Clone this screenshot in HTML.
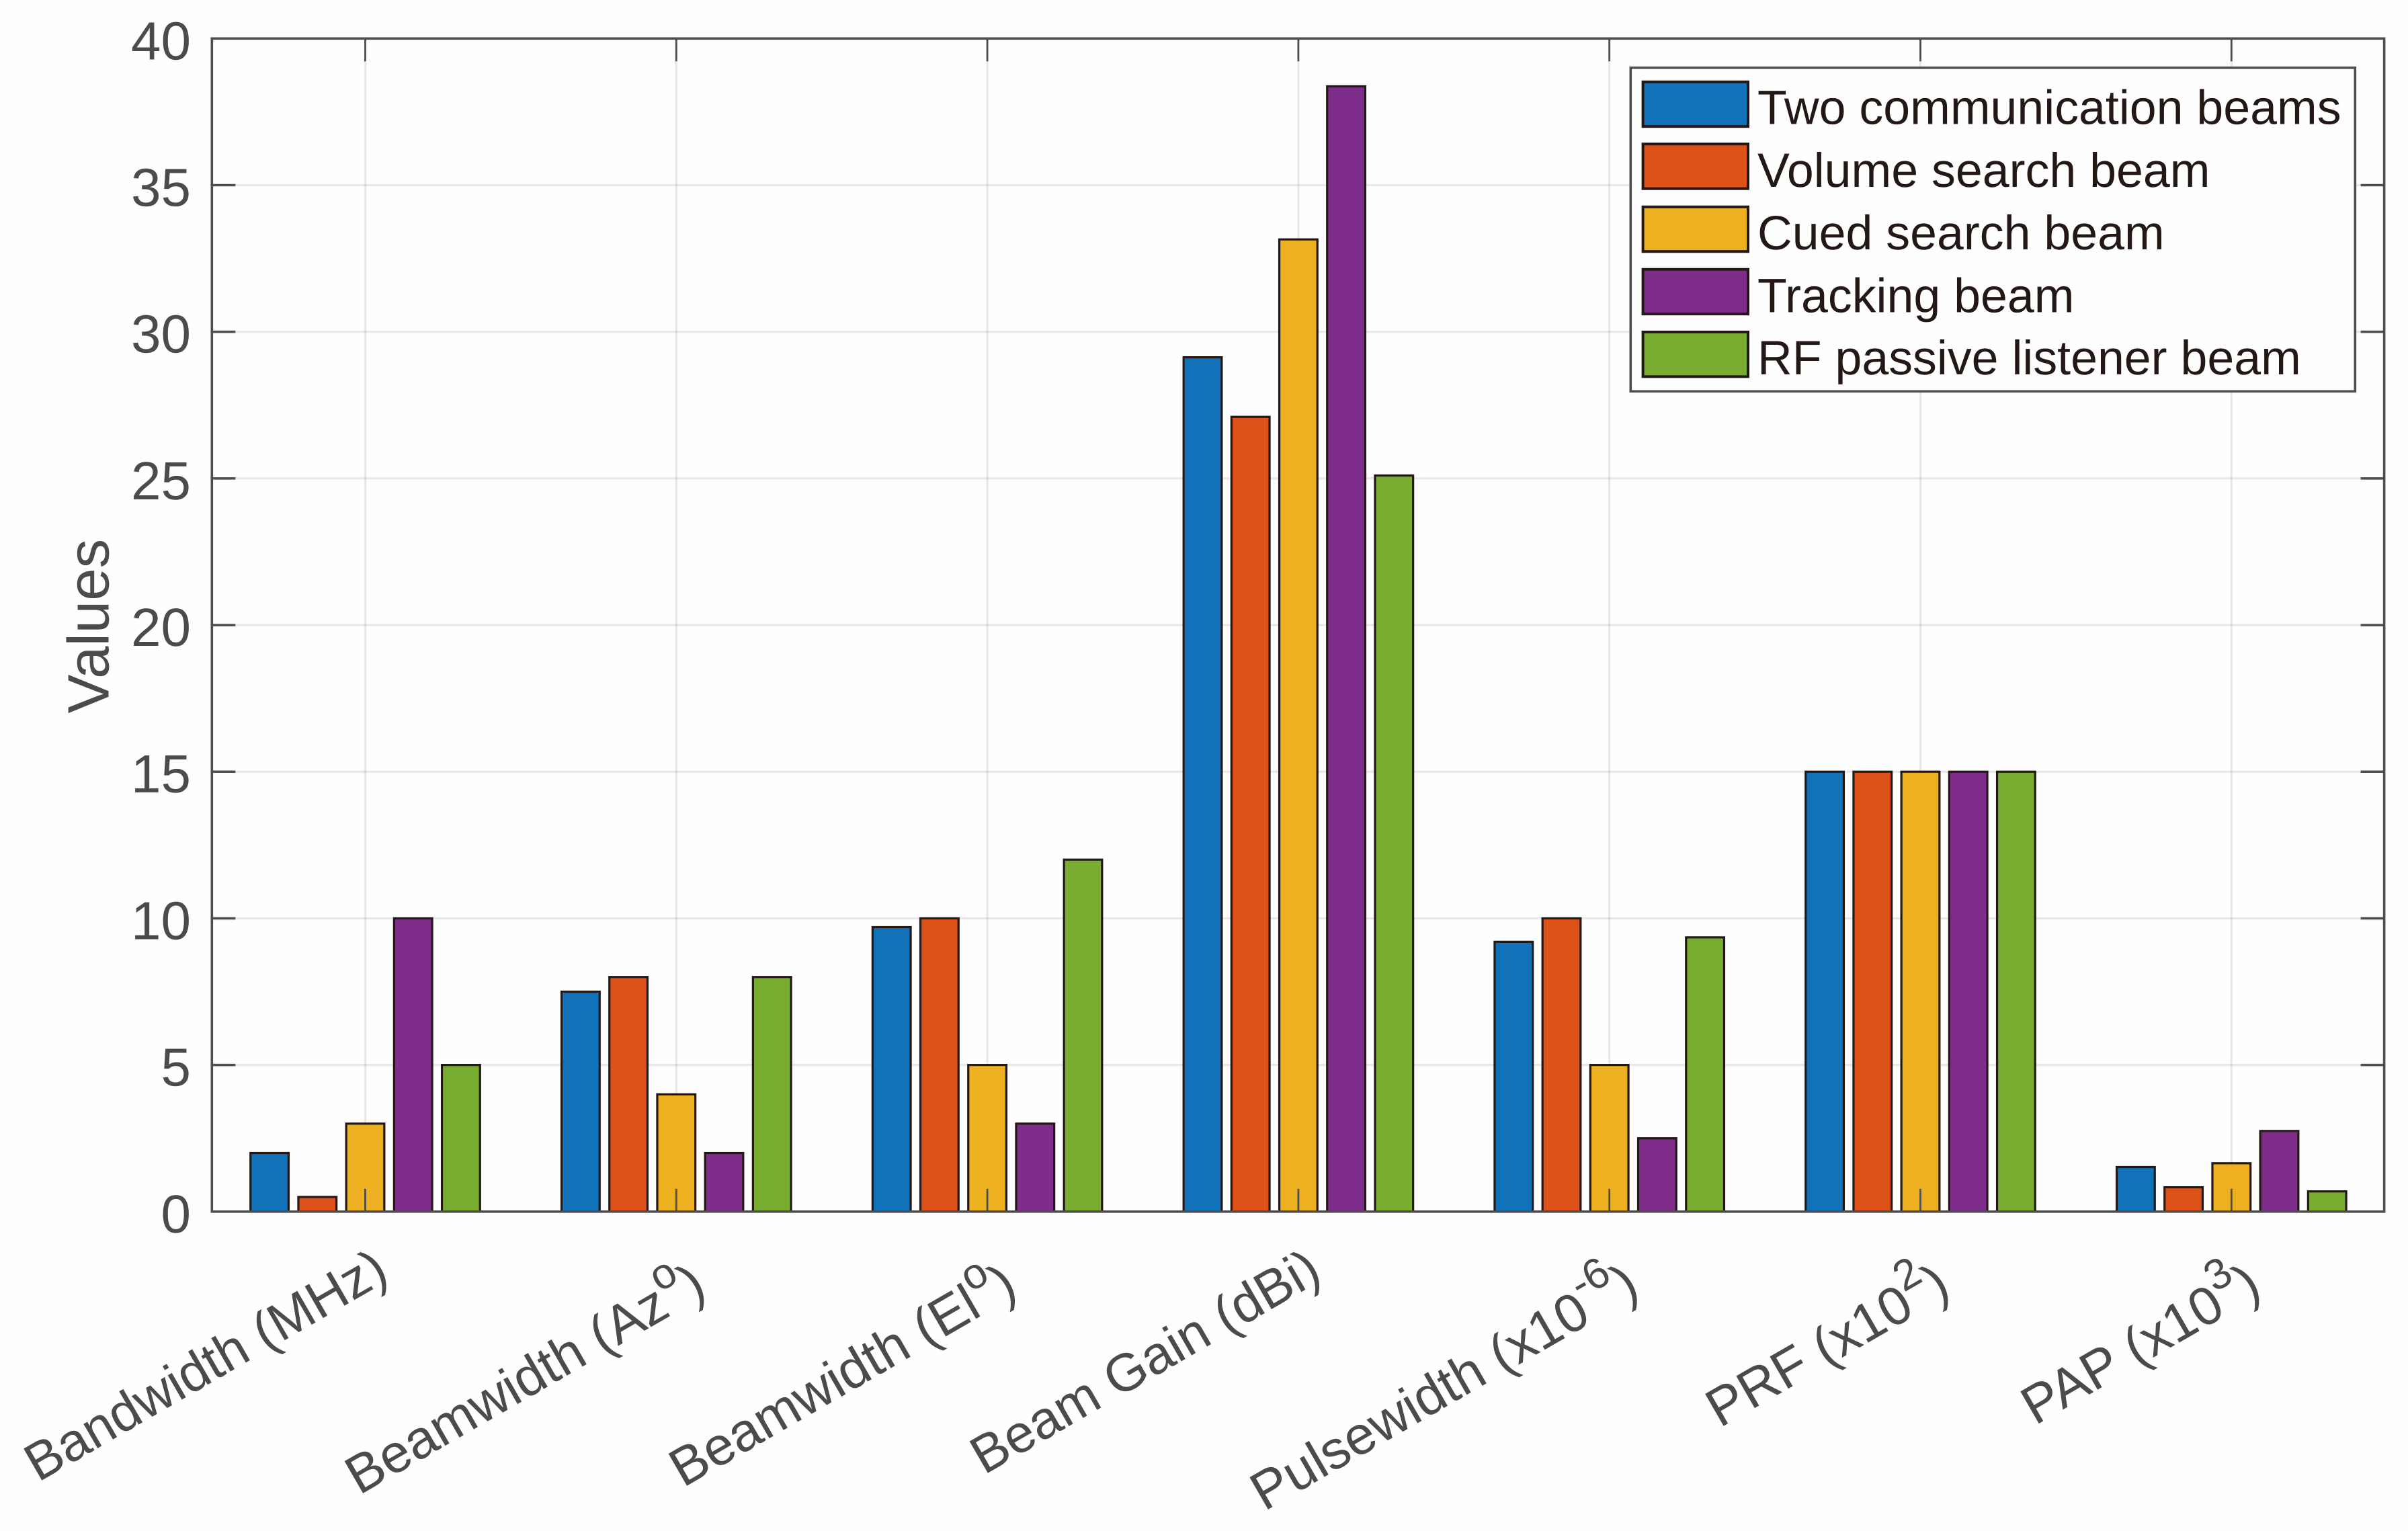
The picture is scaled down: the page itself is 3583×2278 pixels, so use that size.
<!DOCTYPE html>
<html lang="en">
<head>
<meta charset="utf-8">
<title>Beam parameters bar chart</title>
<style>
  html, body { margin: 0; padding: 0; background: #fefefe; }
  body { width: 3583px; height: 2278px; overflow: hidden; }
  svg { display: block; font-family: "Liberation Sans", Arial, sans-serif; text-rendering: geometricPrecision; }
</style>
</head>
<body>
<svg id="chart" xmlns="http://www.w3.org/2000/svg" width="3583" height="2278" viewBox="0 0 3583 2278">
  <rect x="0" y="0" width="3583" height="2278" fill="#fefefe"/>
  <g id="grid"></g>
  <g id="bars"></g>
  <rect x="315.3" y="57.3" width="3232.3" height="1745.5" fill="none" stroke="#4d4d4d" stroke-width="3.6"/>
  <g id="ticks"></g>
  <g id="y-labels"></g>
  <g id="x-labels"></g>
  <text transform="translate(161.5 931.7) rotate(-90)" text-anchor="middle" font-size="87" fill="#4d4b49">Values</text>

  <g>
    <rect x="2426.3" y="100.8" width="1078" height="481.5" fill="#fefefe" stroke="#4d4d4d" stroke-width="3.6"/>
    <g>
      <rect x="2444.6" y="121.8" width="156.4" height="66.4" fill="#1171b9" stroke="#231815" stroke-width="4"/>
      <text x="2615" y="184.6" font-size="71.7" fill="#231815">Two communication beams</text>
    </g>
    <g>
      <rect x="2444.6" y="214.3" width="156.4" height="66.4" fill="#dc5218" stroke="#231815" stroke-width="4"/>
      <text x="2615" y="277.8" font-size="71.7" fill="#231815">Volume search beam</text>
    </g>
    <g>
      <rect x="2444.6" y="307.8" width="156.4" height="66.4" fill="#edb021" stroke="#231815" stroke-width="4"/>
      <text x="2615" y="371" font-size="71.7" fill="#231815">Cued search beam</text>
    </g>
    <g>
      <rect x="2444.6" y="400.8" width="156.4" height="66.4" fill="#7e2e8a" stroke="#231815" stroke-width="4"/>
      <text x="2615" y="464.4" font-size="71.7" fill="#231815">Tracking beam</text>
    </g>
    <g>
      <rect x="2444.6" y="494" width="156.4" height="66.4" fill="#77ac30" stroke="#231815" stroke-width="4"/>
      <text x="2615" y="557" font-size="71.7" fill="#231815">RF passive listener beam</text>
    </g>
  </g>
</svg>
<script>
var categories = ['Bandwidth (MHz)', 'Beamwidth (Az^o^)', 'Beamwidth (El^o^)', 'Beam Gain (dBi)', 'Pulsewidth (x10^-6^)', 'PRF (x10^2^)', 'PAP (x10^3^)'];
var yTicks = [0, 5, 10, 15, 20, 25, 30, 35, 40];
var twoCommunicationBeams = [2, 7.5, 9.7, 29.13, 9.2, 15, 1.52];
var volumeSearchBeam = [0.5, 8, 10, 27.1, 10, 15, 0.83];
var cuedSearchBeam = [3, 4, 5, 33.15, 5, 15, 1.65];
var trackingBeam = [10, 2, 3, 38.37, 2.5, 15, 2.75];
var rfPassiveListenerBeam = [5, 8, 12, 25.1, 9.35, 15, 0.69];
var seriesNames = ['two-communication-beams', 'volume-search-beam', 'cued-search-beam', 'tracking-beam', 'rf-passive-listener-beam'];
var seriesValues = [twoCommunicationBeams, volumeSearchBeam, cuedSearchBeam, trackingBeam, rfPassiveListenerBeam];
var seriesColors = ['#1171b9', '#dc5218', '#edb021', '#7e2e8a', '#77ac30'];

var NS = 'http://www.w3.org/2000/svg';
var plotLeft = 315.3, plotRight = 3547.6, plotTop = 57.3, plotBottom = 1802.8;
var yMax = 40;
var groupStart = 543.5, groupStep = 462.8, barStep = 71.2, barWidth = 56.7;

function xScale(i) { return groupStart + groupStep * i; }
function yScale(v) { return plotBottom - (v / yMax) * (plotBottom - plotTop); }

function make(tag, attrs, parent) {
  var el = document.createElementNS(NS, tag);
  for (var k in attrs) { el.setAttribute(k, attrs[k]); }
  parent.appendChild(el);
  return el;
}

var gridG = document.getElementById('grid');
var barsG = document.getElementById('bars');
var ticksG = document.getElementById('ticks');
var yLabelsG = document.getElementById('y-labels');
var xLabelsG = document.getElementById('x-labels');
var gridStyle = { stroke: '#262626', 'stroke-opacity': '0.1', 'stroke-width': '3.2' };

yTicks.forEach(function (t) {
  var y = yScale(t);
  if (t > 0 && t < yMax) {
    var gl = make('line', { x1: plotLeft, x2: plotRight, y1: y, y2: y, stroke: gridStyle.stroke, 'stroke-opacity': gridStyle['stroke-opacity'], 'stroke-width': gridStyle['stroke-width'] }, gridG);
    
    
    var tl = make('line', { x1: plotLeft, x2: plotLeft + 35, y1: y, y2: y, stroke: '#4d4d4d', 'stroke-width': '3.6' }, ticksG);
    
    
    var tr = make('line', { x1: plotRight - 35, x2: plotRight, y1: y, y2: y, stroke: '#4d4d4d', 'stroke-width': '3.6' }, ticksG);
    
    
  }
  var label = make('text', { x: 284, y: y + 31, 'text-anchor': 'end', 'font-size': '80', fill: '#4d4b49' }, yLabelsG);
  
  
  label.textContent = String(t);
});

categories.forEach(function (cat, i) {
  var x = xScale(i);
  var gv = make('line', { x1: x, x2: x, y1: plotTop, y2: plotBottom, stroke: gridStyle.stroke, 'stroke-opacity': gridStyle['stroke-opacity'], 'stroke-width': gridStyle['stroke-width'] }, gridG);
  
  

  seriesValues.forEach(function (vals, j) {
    var top = yScale(vals[i]);
    var cx = x + barStep * (j - 2);
    var bar = make('rect', { x: cx - barWidth / 2, y: top, width: barWidth, height: plotBottom - top, fill: seriesColors[j], stroke: '#231815', 'stroke-width': '3.2' }, barsG);
    
    
  });

  var tb = make('line', { x1: x, x2: x, y1: plotBottom, y2: plotBottom - 34, stroke: '#4d4d4d', 'stroke-width': '2.8' }, ticksG);
  
  
  var tt = make('line', { x1: x, x2: x, y1: plotTop, y2: plotTop + 34, stroke: '#4d4d4d', 'stroke-width': '2.8' }, ticksG);
  
  

  var hasSup = cat.indexOf('^') >= 0;
  var endX = x + (hasSup ? 48 : 38);
  var endY = hasSup ? 1925 : 1903;
  var text = make('text', { transform: 'translate(' + endX + ' ' + endY + ') rotate(-30)', 'text-anchor': 'end', 'font-size': hasSup ? '80' : '79', fill: '#4d4b49' }, xLabelsG);
  
  
  var parts = cat.split('^');
  parts.forEach(function (part, p) {
    var span = make('tspan', {}, text);
    if (p === 1) {
      span.setAttribute('font-size', '64');
      span.setAttribute('dy', '-38');
    } else if (p === 2) {
      span.setAttribute('dy', '38');
    }
    span.textContent = part;
  });
});
</script>
</body>
</html>
